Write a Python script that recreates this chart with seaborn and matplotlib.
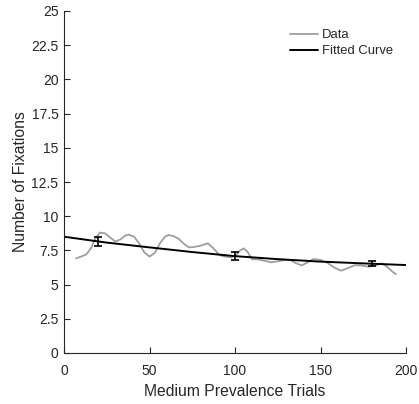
import numpy as np
import pandas as pd
import matplotlib
matplotlib.use("Agg")
import matplotlib.pyplot as plt
import seaborn as sns

# Observed fixation counts across medium-prevalence trials
trial = [7, 10, 13, 16, 18, 21, 24, 27, 30, 33, 36, 38, 41, 44, 47, 50, 53, 56,
         59, 61, 64, 67, 70, 73, 76, 80, 84, 87, 91, 94, 98, 101, 103, 105, 107,
         110, 113, 117, 121, 125, 129, 132, 136, 139, 142, 146, 150, 154, 158,
         162, 166, 170, 174, 178, 182, 186, 189, 192, 194]
fixations = [6.92, 7.05, 7.2, 7.7, 8.3, 8.8, 8.75, 8.45, 8.15, 8.3, 8.6, 8.65,
             8.5, 8.0, 7.35, 7.05, 7.3, 8.0, 8.5, 8.62, 8.55, 8.35, 8.0, 7.72,
             7.75, 7.85, 8.02, 7.7, 7.15, 7.05, 7.0, 7.2, 7.5, 7.65, 7.45, 6.85,
             6.85, 6.75, 6.63, 6.7, 6.8, 6.8, 6.55, 6.4, 6.6, 6.87, 6.8, 6.6,
             6.25, 6.02, 6.2, 6.42, 6.4, 6.31, 6.4, 6.55, 6.3, 5.95, 5.77]

# Fitted curve sampled along the trial range
fit_trial = [0, 25, 50, 75, 100, 125, 150, 175, 200]
fit_value = [8.5, 8.07, 7.72, 7.38, 7.08, 6.86, 6.68, 6.55, 6.43]

# Binned means with standard errors
bin_trial = [20, 100, 180]
bin_mean = [8.14, 7.08, 6.54]
bin_err = [0.32, 0.28, 0.18]

x_ticks = [0, 50, 100, 150, 200]
y_ticks = [0, 2.5, 5, 7.5, 10, 12.5, 15, 17.5, 20, 22.5, 25]

sns.set_style("white")
plt.rcParams["font.family"] = ["Liberation Sans", "DejaVu Sans"]

fig = plt.figure(figsize=(4.19, 4.04), dpi=100)
ax = fig.add_axes([64 / 419, 51 / 404, 342 / 419, 342 / 404])

data_df = pd.DataFrame({"trial": trial, "fixations": fixations})
fit_df = pd.DataFrame({"trial": fit_trial, "fixations": fit_value})

sns.lineplot(data=data_df, x="trial", y="fixations", ax=ax,
             color="#9e9e9e", linewidth=1.3, label="Data")
sns.lineplot(data=fit_df, x="trial", y="fixations", ax=ax,
             color="black", linewidth=1.4, label="Fitted Curve")
ax.errorbar(bin_trial, bin_mean, yerr=bin_err, fmt="none", ecolor="black",
            elinewidth=1.2, capsize=3, capthick=1.2, zorder=5)

ax.set_xlim(0, 200)
ax.set_ylim(0, 25)
ax.set_xticks(x_ticks)
ax.set_yticks(y_ticks)
ax.set_yticklabels([f"{v:g}" for v in y_ticks])
ax.set_xlabel("Medium Prevalence Trials", fontsize=11.3, color="#262626", labelpad=4)
ax.set_ylabel("Number of Fixations", fontsize=11.3, color="#262626", labelpad=2)

for side in ("top", "right"):
    ax.spines[side].set_visible(False)
for side in ("left", "bottom"):
    ax.spines[side].set_color("#262626")
    ax.spines[side].set_linewidth(0.8)
ax.tick_params(direction="in", length=4, width=0.8, colors="#262626",
               labelsize=10, left=True, bottom=True)
ax.tick_params(axis="x", pad=8)
ax.tick_params(axis="y", pad=4)

leg = ax.legend(loc="upper left", bbox_to_anchor=(290 / 419, 1 - 29 / 404),
                bbox_transform=fig.transFigure, frameon=False, fontsize=9.4,
                borderpad=0, borderaxespad=0, handlelength=2.15,
                handletextpad=0.3, labelspacing=0.3)

fig.savefig("out.png", dpi=100)
